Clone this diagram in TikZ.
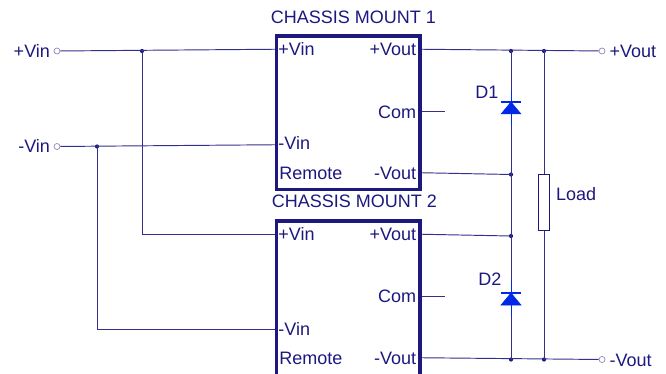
\documentclass[tikz,border=0pt]{standalone}
\usepackage{fontspec}
\setmainfont{Liberation Sans}
\usetikzlibrary{calc,positioning}
\definecolor{Navy}{RGB}{28,24,128}
\definecolor{DiodeBlue}{RGB}{0,40,230}

\begin{document}
\begin{tikzpicture}[x=1pt, y=-1pt,
       every node/.style={font=\fontsize{18}{20}\selectfont, text=Navy},
       module/.style={rectangle, draw=Navy, line width=3.5pt, inner sep=0pt,
                      minimum width=143.5pt, minimum height=#1},
       pinlabel/.style={inner sep=0pt, text height=13pt, text depth=0pt},
       wire/.style={draw=Navy!90, line width=0.95pt},
       terminal/.style={circle, draw=Navy!50, line width=0.7pt, fill=white,
                        minimum size=6pt, inner sep=0pt},
       junction/.style={circle, fill=Navy, minimum size=4.2pt, inner sep=0pt},
       loadbox/.style={rectangle, draw=Navy, line width=1pt, fill=white,
                       minimum width=11pt, minimum height=56.5pt, inner sep=0pt}]
	\useasboundingbox (0,0) rectangle (666,374);

	%% Modules
	\node [module=153.5pt] (mod1) at (348.25,112.75) {};
	\node [module=158pt] (mod2) at (348.25,300) {};
	\node [anchor=base west, inner sep=0pt] (title1) at ([shift={(-4pt,10.5pt)}]mod1.north west) {CHASSIS MOUNT 1};
	\node [anchor=base west, inner sep=0pt] (title2) at ([shift={(-3pt,12pt)}]mod2.north west) {CHASSIS MOUNT 2};

	%% Pins of module 1
	\coordinate (m1vinp) at ($(mod1.north west)+(0,15)$);
	\coordinate (m1vinm) at ($(mod1.north west)+(0,110.5)$);
	\coordinate (m1rem) at ($(mod1.north west)+(0,139)$);
	\coordinate (m1voutp) at ($(mod1.north east)+(0,15)$);
	\coordinate (m1com) at ($(mod1.north east)+(0,77.5)$);
	\coordinate (m1voutm) at ($(mod1.north east)+(0,138.5)$);
	\node [pinlabel, right=3.5pt of m1vinp] (l1vinp) {+Vin};
	\node [pinlabel, right=3.5pt of m1vinm, yshift=1.5pt] (l1vinm) {-Vin};
	\node [pinlabel, right=4.5pt of m1rem] (l1rem) {Remote};
	\node [pinlabel, left=5.5pt of m1voutp] (l1voutp) {+Vout};
	\node [pinlabel, left=5.5pt of m1com] (l1com) {Com};
	\node [pinlabel, left=5.5pt of m1voutm] (l1voutm) {-Vout};

	%% Pins of module 2
	\coordinate (m2vinp) at ($(mod2.north west)+(0,15)$);
	\coordinate (m2vinm) at ($(mod2.north west)+(0,110)$);
	\coordinate (m2rem) at ($(mod2.north west)+(0,139)$);
	\coordinate (m2voutp) at ($(mod2.north east)+(0,15)$);
	\coordinate (m2com) at ($(mod2.north east)+(0,77)$);
	\coordinate (m2voutm) at ($(mod2.north east)+(0,138.5)$);
	\node [pinlabel, right=3.5pt of m2vinp] (l2vinp) {+Vin};
	\node [pinlabel, right=3.5pt of m2vinm] (l2vinm) {-Vin};
	\node [pinlabel, right=4.5pt of m2rem] (l2rem) {Remote};
	\node [pinlabel, left=5.5pt of m2voutp] (l2voutp) {+Vout};
	\node [pinlabel, left=5.5pt of m2com] (l2com) {Com};
	\node [pinlabel, left=5.5pt of m2voutm] (l2voutm) {-Vout};

	%% Com stubs
	\coordinate (c1end) at ($(m1com)+(23,0)$);
	\coordinate (c2end) at ($(m2com)+(23,0)$);

	%% Terminals
	\node [terminal] (vinp) at (57,51) {};
	\node [terminal] (vinm) at (57,146.5) {};
	\node [terminal] (voutp) at (602,51) {};
	\node [terminal] (voutm) at (602,359.5) {};
	\node [pinlabel, left=3.5pt of vinp] (lvinp) {+Vin};
	\node [pinlabel, left=3.5pt of vinm] (lvinm) {-Vin};
	\node [pinlabel, right=4pt of voutp] (lvoutp) {+Vout};
	\node [pinlabel, right=4pt of voutm] (lvoutm) {-Vout};

	%% Junctions
	\node [junction] (jvp) at (142,51) {};
	\node [junction] (jvm) at (97,146.5) {};
	\node [junction] (jd1) at (511,51) {};
	\node [junction] (jd2) at (511,174.5) {};
	\node [junction] (jd3) at (511,236) {};
	\node [junction] (jd4) at (511,359.5) {};
	\node [junction] (jl1) at (544,51) {};
	\node [junction] (jl2) at (544,359.5) {};

	%% Input wiring
	\draw [wire] (vinp) -- (m1vinp);
	\draw [wire] (vinm) -- (m1vinm);
	\draw [wire] (jvp.center) |- (m2vinp);
	\draw [wire] (jvm.center) |- (m2vinm);

	%% Output wiring
	\draw [wire] (m1voutp) -- (voutp);
	\draw [wire] (m2voutm) -- (voutm);
	\draw [wire] (m1voutm) -- (jd2.center);
	\draw [wire] (m2voutp) -- (jd3.center);
	\draw [wire] (m1com) -- (c1end);
	\draw [wire] (m2com) -- (c2end);
	\draw [wire] (jd1.center) -- (jd4.center);

	%% Load
	\node [loadbox] (load) at (544,202.5) {};
	\node [anchor=base west, inner sep=0pt] (loadlbl) at (556,200.7) {Load};
	\draw [wire] (jl1.center) -- (load);
	\draw [wire] (load) -- (jl2.center);

	%% Diodes
	\coordinate (d1) at (511,102);
	\coordinate (d2) at (511,293);
	\draw [DiodeBlue, line width=1pt] ($(d1)+(0,-12)$) -- ($(d1)+(0,23)$);
	\filldraw [DiodeBlue, line width=0.5pt] ($(d1)+(-10,12)$) -- (d1) -- ($(d1)+(10,12)$) -- cycle;
	\draw [DiodeBlue, line width=1.6pt] ($(d1)+(-10,0)$) -- ($(d1)+(10,0)$);
	\draw [DiodeBlue, line width=1pt] ($(d2)+(0,-12)$) -- ($(d2)+(0,23)$);
	\filldraw [DiodeBlue, line width=0.5pt] ($(d2)+(-10,12)$) -- (d2) -- ($(d2)+(10,12)$) -- cycle;
	\draw [DiodeBlue, line width=1.6pt] ($(d2)+(-10,0)$) -- ($(d2)+(10,0)$);
	\node [anchor=base east, inner sep=0pt] (d1lbl) at (498.5,99) {D1};
	\node [anchor=base east, inner sep=0pt] (d2lbl) at (501.5,285) {D2};
\end{tikzpicture}
\end{document}
